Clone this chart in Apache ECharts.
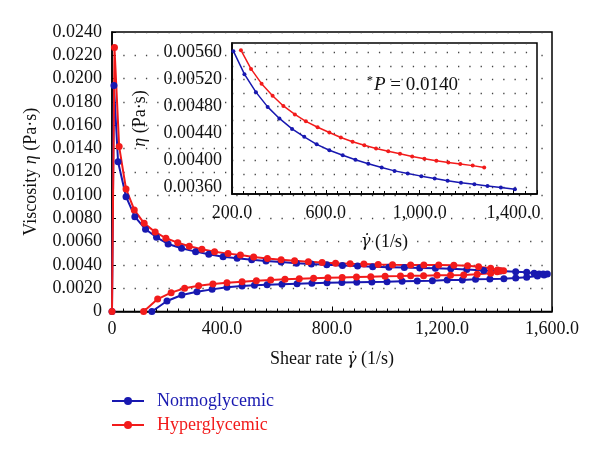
<!DOCTYPE html>
<html>
<head>
<meta charset="utf-8">
<script src="https://cdn.jsdelivr.net/npm/echarts@6/dist/echarts.min.js"></script>
<style>html,body{margin:0;padding:0;background:#fff;}#c{width:600px;height:456px;}</style>
</head>
<body>
<div id="c"></div>
<script>
// ---- Main chart data (hysteresis loops) ----
const normoMainX = [0, 7, 22, 51, 83, 122, 162, 204, 253, 304, 352, 404, 455, 508, 560, 615, 671, 725, 781, 838, 893, 948, 1007, 1063, 1119, 1176, 1232, 1290, 1352, 1413, 1468, 1508, 1535, 1553, 1568, 1583,
  1571, 1547, 1508, 1468, 1425, 1374, 1322, 1274, 1219, 1165, 1110, 1055, 1000, 945, 890, 836, 782, 727, 673, 618, 564, 518, 473, 418, 364, 309, 254, 200, 145];
const normoMainY = [0, 0.0194, 0.01286, 0.00986, 0.00814, 0.00706, 0.00637, 0.0058, 0.00543, 0.00514, 0.00491, 0.00471, 0.00457, 0.00445, 0.00434, 0.00424, 0.00415, 0.00408, 0.00401, 0.00395, 0.0039, 0.00385, 0.00381, 0.00377, 0.00374, 0.00371, 0.00367, 0.0036, 0.00352, 0.00347, 0.00342, 0.00337, 0.00329, 0.00323, 0.00322, 0.00321,
  0.00314, 0.00305, 0.00294, 0.00288, 0.00282, 0.00279, 0.00277, 0.00271, 0.00271, 0.00265, 0.00262, 0.00259, 0.00256, 0.00254, 0.00252, 0.00249, 0.00246, 0.00243, 0.00239, 0.00235, 0.0023, 0.00225, 0.00219, 0.00208, 0.0019, 0.0017, 0.00142, 0.0009, 0];
const hyperMainX = [0, 9, 26, 51, 81, 117, 157, 196, 239, 281, 327, 373, 422, 467, 515, 565, 615, 664, 714, 764, 813, 866, 916, 968, 1020, 1086, 1134, 1188, 1243, 1293, 1333, 1377, 1402, 1413, 1424,
  1401, 1377, 1328, 1279, 1231, 1182, 1133, 1086, 1049, 993, 941, 889, 837, 785, 733, 681, 629, 577, 525, 473, 418, 367, 315, 264, 215, 166, 115];
const hyperMainY = [0, 0.02266, 0.01416, 0.01052, 0.00872, 0.00757, 0.00683, 0.00629, 0.00591, 0.0056, 0.00534, 0.00514, 0.00497, 0.00485, 0.00468, 0.00455, 0.00444, 0.00435, 0.00427, 0.0042, 0.00415, 0.0041, 0.00407, 0.00404, 0.00402, 0.004, 0.004, 0.004, 0.00397, 0.00393, 0.00385, 0.00371, 0.00356, 0.0035, 0.0035,
  0.00342, 0.00328, 0.0032, 0.00314, 0.00311, 0.00311, 0.00308, 0.00308, 0.00305, 0.00302, 0.00299, 0.00296, 0.00293, 0.0029, 0.00286, 0.00282, 0.00277, 0.00271, 0.00264, 0.00256, 0.00247, 0.00236, 0.00222, 0.00199, 0.00162, 0.00107, 0];

// ---- Inset data ----
const normoInsetX = [206, 253, 302, 352, 402, 456, 508, 561, 615, 672, 726, 781, 838, 893, 949, 1007, 1064, 1119, 1176, 1233, 1289, 1346, 1406];
const normoInsetY = [0.005619, 0.005278, 0.005011, 0.004792, 0.004621, 0.004466, 0.004349, 0.004237, 0.004149, 0.004076, 0.004008, 0.00395, 0.003892, 0.003843, 0.003804, 0.003765, 0.003731, 0.003697, 0.003668, 0.003643, 0.003619, 0.003595, 0.00357];
const hyperInsetX = [238, 281, 326, 373, 419, 468, 515, 565, 615, 664, 714, 764, 814, 866, 916, 968, 1020, 1071, 1122, 1173, 1226, 1275];
const hyperInsetY = [0.005634, 0.005356, 0.005137, 0.004957, 0.004806, 0.00468, 0.004578, 0.00449, 0.004412, 0.004339, 0.004276, 0.004222, 0.004174, 0.004135, 0.004096, 0.004057, 0.004023, 0.003994, 0.003969, 0.003945, 0.003921, 0.003892];

const seriesNames = ['Normoglycemic', 'Hyperglycemic'];
const mainXTicks = {min: 0, max: 1600, step: 400};
const mainYTicks = {min: 0, max: 0.024, step: 0.002};
const insetXTicks = {min: 200, max: 1500, step: 400};
const insetYTicks = {min: 0.0035, max: 0.00574, step: 0.0001};
const annotationValue = '0.0140';

const BLUE = '#1818B0', RED = '#F21B1B';
const FONT = 'Liberation Serif';
const FS = 18;
const zip = (xs, ys) => xs.map((x, i) => [x, ys[i]]);
const fmtThousands = (v, d) => {
  if (v === 0) return '0';
  const s = v.toFixed(d); const parts = s.split('.');
  parts[0] = parts[0].replace(/\B(?=(\d{3})+(?!\d))/g, ',');
  return parts.join('.');
};
const dotted = {color: '#444', width: 1.3, type: [1.3, 10]};
const txt = {fontFamily: FONT, fontSize: FS, color: '#111'};
const richName = {
  i: {fontFamily: FONT, fontSize: FS, fontStyle: 'italic', color: '#111'},
  g: {fontFamily: 'DejaVu Serif', fontSize: FS - 2, fontStyle: 'italic', color: '#111'}
};

const chart = echarts.init(document.getElementById('c'), null, {renderer: 'canvas'});
chart.setOption({
  animation: false,
  backgroundColor: '#fff',
  grid: [
    {left: 112, top: 32, right: 48, bottom: 144.5, show: true, borderColor: '#000', borderWidth: 1.5, backgroundColor: 'transparent'},
    {left: 232, top: 43, right: 63, bottom: 262, show: true, borderColor: '#000', borderWidth: 1.5, backgroundColor: '#fff', z: 3}
  ],
  xAxis: [
    {gridIndex: 0, type: 'value', min: mainXTicks.min, max: mainXTicks.max, interval: mainXTicks.step,
     axisLine: {lineStyle: {color: '#000', width: 1.5}},
     axisTick: {inside: true, length: 5, lineStyle: {color: '#000'}},
     minorTick: {show: true, splitNumber: 10, length: 3, lineStyle: {color: '#000'}},
     splitLine: {show: false},
     axisLabel: Object.assign({margin: 9, formatter: v => fmtThousands(v, 1)}, txt),
     name: 'Shear rate {g|γ̇} (1/s)', nameLocation: 'middle', nameGap: 39,
     nameTextStyle: Object.assign({rich: richName}, txt)},
    {gridIndex: 1, type: 'value', min: insetXTicks.min, max: insetXTicks.max, interval: insetXTicks.step, z: 4,
     axisLine: {lineStyle: {color: '#000', width: 1.5}},
     axisTick: {inside: true, length: 4, lineStyle: {color: '#000'}},
     minorTick: {show: true, splitNumber: 8, length: 3, lineStyle: {color: '#000'}},
     splitLine: {show: false},
     axisLabel: Object.assign({margin: 10, showMaxLabel: false, formatter: v => fmtThousands(v, 1)}, txt),
     name: '{g|γ̇} (1/s)', nameLocation: 'middle', nameGap: 39,
     nameTextStyle: Object.assign({rich: richName}, txt)}
  ],
  yAxis: [
    {gridIndex: 0, type: 'value', min: mainYTicks.min, max: mainYTicks.max, interval: mainYTicks.step,
     axisLine: {lineStyle: {color: '#000', width: 1.5}},
     axisTick: {inside: true, length: 4, lineStyle: {color: '#000'}},
     splitLine: {show: true, lineStyle: dotted},
     axisLabel: Object.assign({margin: 10, formatter: v => v === 0 ? '0' : v.toFixed(4)}, txt),
     name: 'Viscosity {i|η} (Pa·s)', nameLocation: 'middle', nameGap: 72,
     nameTextStyle: Object.assign({rich: richName}, txt)},
    {gridIndex: 1, type: 'value', min: insetYTicks.min, max: insetYTicks.max, interval: insetYTicks.step, z: 4,
     axisLine: {lineStyle: {color: '#000', width: 1.5}},
     axisTick: {show: false},
     splitLine: {show: true, lineStyle: {color: ['transparent', '#444'], width: 1.3, type: [1.3, 10]}},
     axisLabel: Object.assign({margin: 10, formatter: v => (Math.round(v * 1e5) % 40 === 0) ? v.toFixed(5) : ''}, txt),
     name: '{i|η} (Pa·s)', nameLocation: 'middle', nameGap: 83,
     nameTextStyle: Object.assign({rich: richName}, txt)}
  ],
  legend: {
    orient: 'vertical', left: 106, top: 387, itemWidth: 32, itemHeight: 10, itemGap: 6,
    data: [
      {name: seriesNames[0], textStyle: {color: BLUE}},
      {name: seriesNames[1], textStyle: {color: RED}}
    ],
    textStyle: {fontFamily: FONT, fontSize: 18, padding: [0, 0, 0, 8]}
  },
  graphic: [{
    type: 'text', left: 367, top: 75, z: 10,
    style: {
      text: '{s|*}{i|P} = ' + annotationValue,
      rich: {
        s: {fontFamily: FONT, fontSize: 12, verticalAlign: 'top', fill: '#111', padding: [0, 1, 8, 0]},
        i: {fontFamily: FONT, fontSize: 19, fontStyle: 'italic', fill: '#111'}
      },
      fontFamily: FONT, fontSize: 19, fill: '#111'
    }
  }],
  series: [
    {name: seriesNames[0], type: 'line', xAxisIndex: 0, yAxisIndex: 0, data: zip(normoMainX, normoMainY),
     symbol: 'circle', symbolSize: 7, color: BLUE, lineStyle: {width: 2, color: BLUE}, itemStyle: {color: BLUE}, z: 2},
    {name: seriesNames[1], type: 'line', xAxisIndex: 0, yAxisIndex: 0, data: zip(hyperMainX, hyperMainY),
     symbol: 'circle', symbolSize: 7, color: RED, lineStyle: {width: 2, color: RED}, itemStyle: {color: RED}, z: 2},
    {name: seriesNames[0], type: 'line', xAxisIndex: 1, yAxisIndex: 1, data: zip(normoInsetX, normoInsetY),
     symbol: 'circle', symbolSize: 4, color: BLUE, lineStyle: {width: 1.5, color: BLUE}, itemStyle: {color: BLUE}, z: 6},
    {name: seriesNames[1], type: 'line', xAxisIndex: 1, yAxisIndex: 1, data: zip(hyperInsetX, hyperInsetY),
     symbol: 'circle', symbolSize: 4, color: RED, lineStyle: {width: 1.5, color: RED}, itemStyle: {color: RED}, z: 6}
  ]
});
</script>
</body>
</html>
